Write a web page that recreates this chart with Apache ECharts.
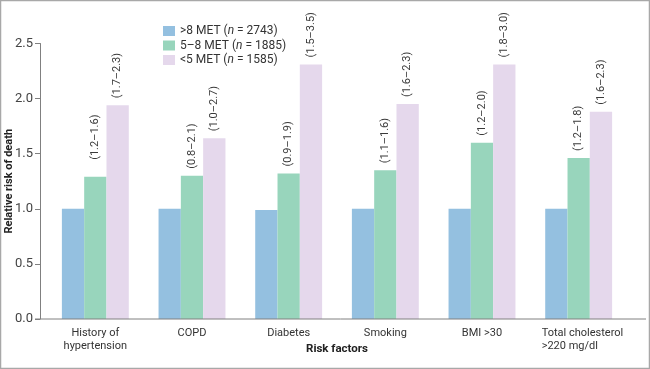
<!DOCTYPE html>
<html>
<head>
<meta charset="utf-8">
<script src="https://cdn.jsdelivr.net/npm/echarts@6/dist/echarts.min.js"></script>
<style>
html,body{margin:0;padding:0;background:#fff;}
#chart{width:650px;height:369px;}
</style>
</head>
<body>
<div id="chart"></div>
<script>
const categories = ['History of\nhypertension', 'COPD', 'Diabetes', 'Smoking', 'BMI >30', 'Total cholesterol\n>220 mg/dl'];
const seriesNames = ['>8 MET (n = 2743)', '5–8 MET (n = 1885)', '<5 MET (n = 1585)'];
const highFit = [1.00, 1.00, 0.99, 1.00, 1.00, 1.00];
const midFit = [1.29, 1.30, 1.32, 1.35, 1.60, 1.46];
const lowFit = [1.94, 1.64, 2.31, 1.95, 2.31, 1.88];
const midCI = ['(1.2–1.6)', '(0.8–2.1)', '(0.9–1.9)', '(1.1–1.6)', '(1.2–2.0)', '(1.2–1.8)'];
const lowCI = ['(1.7–2.3)', '(1.0–2.7)', '(1.5–3.5)', '(1.6–2.3)', '(1.8–3.0)', '(1.6–2.3)'];
const yTicks = [0, 0.5, 1.0, 1.5, 2.0, 2.5];

const colors = ['#94c0e0', '#98d5bc', '#e5d8ec'];
const FONT = 'Roboto';

const chart = echarts.init(document.getElementById('chart'), null, {renderer: 'canvas'});

function ciLabel(arr) {
  return {
    show: true,
    position: 'top',
    rotate: 90,
    align: 'left',
    verticalAlign: 'middle',
    distance: 7,
    fontFamily: FONT,
    fontSize: 11,
    color: '#3a3a3a',
    formatter: p => arr[p.dataIndex]
  };
}

const option = {
  animation: false,
  color: colors,
  textStyle: {fontFamily: FONT},
  grid: {left: 47, right: 23, top: 43.5, bottom: 50, containLabel: false, outerBoundsMode: 'none'},
  legend: {
    orient: 'vertical',
    left: 158,
    top: 19,
    itemWidth: 12,
    itemHeight: 10,
    itemGap: 0.5,
    icon: 'rect',
    data: seriesNames,
    textStyle: {
      fontFamily: FONT, fontSize: 12, color: '#333', lineHeight: 14,
      rich: {i: {fontFamily: FONT, fontSize: 12, fontStyle: 'italic', color: '#333', lineHeight: 14}}
    },
    formatter: name => name.replace('(n ', '({i|n} ')
  },
  xAxis: {
    type: 'category',
    data: categories,
    name: 'Risk factors',
    nameLocation: 'middle',
    nameGap: 24,
    nameMoveOverlap: false,
    nameTextStyle: {fontFamily: FONT, fontSize: 11.5, fontWeight: 'bold', color: '#222'},
    axisLine: {show: false},
    axisTick: {show: false},
    axisLabel: {
      fontFamily: FONT, fontSize: 11, color: '#333', lineHeight: 13, margin: 8, interval: 0,
      formatter: v => v.indexOf('Total') === 0 ? v.split('\n').map(s => '{l|' + s + '}').join('\n') : v,
      rich: {l: {width: 74, align: 'left', fontFamily: FONT, fontSize: 11, color: '#333', lineHeight: 13}}
    }
  },
  yAxis: {
    type: 'value',
    min: 0, max: 2.5, interval: 0.5,
    offset: 7,
    name: 'Relative risk of death',
    nameLocation: 'middle',
    nameGap: 25,
    nameMoveOverlap: false,
    nameTextStyle: {fontFamily: FONT, fontSize: 11, fontWeight: 'bold', color: '#222'},
    axisLine: {show: true, lineStyle: {color: '#808080', width: 1}},
    axisTick: {show: true, length: 5, lineStyle: {color: '#808080'}},
    splitLine: {show: false},
    axisLabel: {
      fontFamily: FONT, fontSize: 13, color: '#444', margin: 7,
      formatter: v => yTicks.indexOf(v) >= 0 ? v.toFixed(1) : ''
    }
  },
  series: [
    {name: seriesNames[0], type: 'bar', data: highFit, barWidth: 22.3, barGap: '0%'},
    {name: seriesNames[1], type: 'bar', data: midFit.map((v, i) => i === 0 ? {value: v, label: {distance: 17}} : v), barWidth: 22.3, barGap: '0%', label: ciLabel(midCI)},
    {name: seriesNames[2], type: 'bar', data: lowFit, barWidth: 22.3, barGap: '0%', label: ciLabel(lowCI)}
  ]
};
chart.setOption(option);

const y0 = chart.convertToPixel({yAxisIndex: 0}, 0);
chart.setOption({
  graphic: [
    {type: 'line', shape: {x1: 35, y1: y0, x2: 646, y2: y0}, style: {stroke: '#808080', lineWidth: 1}, z: 10},
    {type: 'rect', shape: {x: 0.5, y: 0.5, width: 649, height: 368}, style: {fill: 'none', stroke: '#a8a8a8', lineWidth: 1.5}, z: 10}
  ]
});
</script>
</body>
</html>
